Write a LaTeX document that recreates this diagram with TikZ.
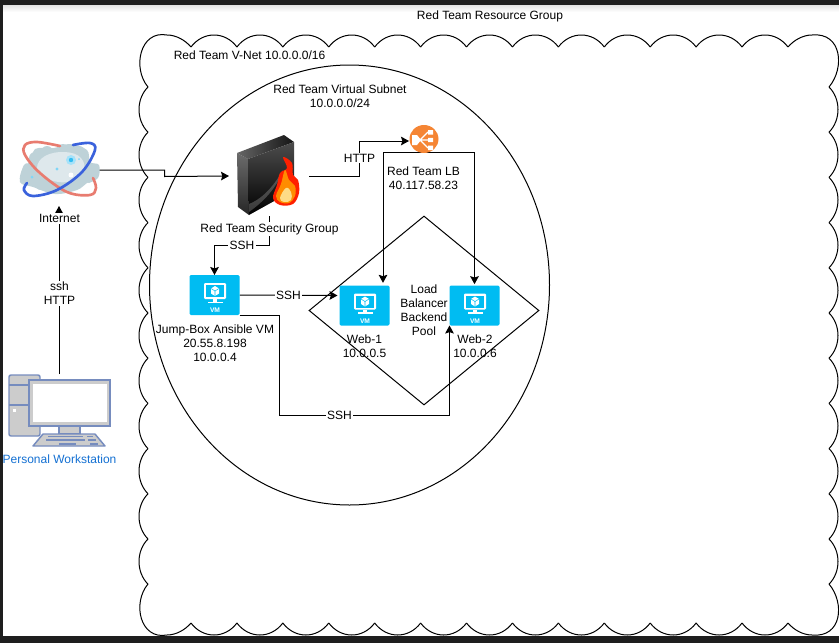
\documentclass[tikz,border=0pt]{standalone}
\usepackage{fontspec}
\setmainfont{Liberation Sans}
\usetikzlibrary{
    arrows.meta,
    shapes.geometric
}
\definecolor{framebar}{RGB}{30,30,30}
\definecolor{vmblue}{RGB}{0,188,242}
\definecolor{lborange}{RGB}{245,133,52}
\definecolor{pcstroke}{RGB}{118,140,190}
\definecolor{pcfill}{RGB}{204,204,204}
\definecolor{wslabel}{RGB}{20,112,210}
\definecolor{ringred}{RGB}{232,124,112}
\definecolor{ringblue}{RGB}{58,98,220}
\definecolor{cloudgrey}{RGB}{190,210,216}
\definecolor{cloudpale}{RGB}{222,232,236}
\tikzset{
    vmicon/.pic={
        \fill[vmblue, rounded corners=1pt] (-25,-20) rectangle (25,20);
        \fill[white, rounded corners=0.8pt] (-10.5,-12) rectangle (11.5,4);
        \fill[vmblue] (-8.5,-10) rectangle (9.5,2);
        \fill[white] (-1.5,4) rectangle (2.5,7);
        \fill[white] (-7,6.5) rectangle (8,8.2);
        \fill[white] (0.5,-9) -- (4.5,-6.5) -- (4.5,-1.5) -- (0.5,1) -- (-3.5,-1.5) -- (-3.5,-6.5) -- cycle;
        \draw[vmblue, line width=0.4pt] (-3.5,-6.5) -- (0.5,-4) -- (4.5,-6.5) (0.5,-4) -- (0.5,1);
        \node[text=white, font=\fontsize{5}{5}\bfseries\selectfont, inner sep=0pt] at (0.5,15.5) {VM};
    },
    lbicon/.pic={
        \fill[lborange] (0,-2) ellipse (14.5 and 14);
        \fill[white] (-12,-6) -- (-7,-6) -- (-3,-1) -- (-7,4) -- (-12,4) -- cycle;
        \draw[white, line width=0.9pt] (-4,-1) -- (4,-9) (-4,-1) -- (4,-1) (-4,-1) -- (4,7);
        \fill[white] (4,-11) rectangle (9,-6.5) (4,-3.2) rectangle (9,1.2) (4,4.5) rectangle (9,9);
    },
    firewallicon/.pic={
        \shade[top color=black!58, bottom color=black!85] (-32,-23) -- (-21,-17) -- (-20,39) -- (-31,31) -- cycle;
        \shade[left color=black!60, right color=black!92] (-32,-23) -- (15,-41) -- (25,-34) -- (-21,-17) -- cycle;
        \shade[top color=black!70, bottom color=black] (-21,-17) -- (25,-34) -- (25,14) -- (-20,39) -- cycle;
        \fill[white, opacity=0.22] (-20,28) .. controls (-5,22) and (6,8) .. (14,-6) .. controls (8,12) and (-6,26) .. (-20,36) -- cycle;
        \fill[red!75!orange] plot[smooth cycle, tension=0.6] coordinates {(14,-19) (23,-13) (24,-1) (29,4) (30,17) (24,28) (11,29) (4,22) (8,9) (11,-3) (18,-8)};
        \fill[orange!90!yellow] plot[smooth cycle, tension=0.6] coordinates {(16,-6) (20,4) (26,10) (26,20) (20,27) (11,26) (7,20) (12,8)};
        \fill[yellow!45!orange!45!white] plot[smooth cycle, tension=0.7] coordinates {(17,12) (22,16) (22,24) (15,26) (11,22)};
    },
    globeicon/.pic={
        \fill[cloudgrey] plot[smooth cycle, tension=0.6] coordinates {(-39,12) (-35,-5) (-27,-8) (-24,-21) (-5,-22) (11,-26) (28,-20) (31,-8) (40,-5) (39,8) (28,13) (18,20) (-4,24) (-26,17)};
        \foreach \cx/\cy/\cr in {-32/4/6, -24/-12/6, -12/-18/6, 4/-20/6, 20/-18/6, 33/-2/5, 30/8/5, -18/14/6, 4/18/5}
            \fill[cloudgrey] (\cx,\cy) circle (\cr);
        \fill[cloudpale] plot[smooth cycle, tension=0.7] coordinates {(-14,-14) (6,-18) (22,-12) (24,2) (8,12) (-14,8) (-22,-2)};
        \fill[cyan!35!white] (12,-10) circle (5);
        \fill[cyan!80!white] (12,-10) circle (2.2);
        \fill[white] (12,5) circle (2.5);
        \fill[cyan!50!white] (-2,-1) circle (1.6) (-27,7) circle (1.5) (20,-11) circle (1);
        \draw[ringred, line width=2pt, line cap=round] plot[smooth, tension=0.6] coordinates {(1,-24) (-22,-28) (-34,-25) (-34,-15) (-19,3) (8,22) (31,25) (37,18) (34,8)};
        \draw[ringblue, line width=2pt, line cap=round] plot[smooth, tension=0.6] coordinates {(14,-25) (31,-27) (36,-20) (23,2) (-2,20) (-26,26) (-35,20) (-32,13)};
    },
    pcicon/.pic={
        \draw[pcstroke, fill=pcfill, line width=1.1pt, rounded corners=1.5pt] (-50,-36) rectangle (-19,25);
        \draw[pcstroke, line width=1.1pt] (-50,-26) -- (-19,-26) (-50,-6) -- (-19,-6);
        \fill[white] (-46,-2.5) rectangle (-43,0.5);
        \draw[pcstroke, fill=pcfill, line width=1.1pt] (0,15) rectangle (21,23);
        \draw[pcstroke, fill=pcfill, line width=1.1pt] (-30,-31) rectangle (51,15);
        \fill[white] (-26,-27) rectangle (48,11);
        \draw[pcstroke, fill=pcfill, line width=1.1pt, line join=round] (-16,23) -- (36,23) -- (46,35) -- (-26,35) -- cycle;
        \draw[pcstroke, line width=1.1pt] (-11,25.5) -- (24,25.5) (28,25.5) -- (34,25.5) (-13,29) -- (26,29) (29,29) -- (37,29) (0,33) -- (17,33) (31,33) -- (39,33);
    }
}

\begin{document}
\begin{tikzpicture}[
    x=0.75pt, y=-0.75pt,
    iconbox/.style={inner sep=0pt, outer sep=0pt},
    txt/.style={font=\fontsize{9}{10.5}\selectfont, align=center, inner sep=0pt},
    linklabel/.style={txt, fill=white, inner sep=1pt},
    link/.style={-{Stealth[length=6pt, width=6.5pt, inset=1pt]}, line width=0.75pt},
    cloudedge/.style={line width=0.75pt}
]
    \useasboundingbox (0,0) rectangle (839,643);

    % Window frame
    \shade[top color=black!12, bottom color=white] (0,4.5) rectangle (839,12);
    \fill[framebar] (0,0) rectangle (839,4.5);
    \fill[framebar] (0,0) rectangle (3,643);
    \fill[framebar] (0,636) rectangle (839,643);

    % V-Net cloud outline
    \foreach \n in {0,...,12}
        \draw[cloudedge] ({191+45.92*\n},47) .. controls ({203+45.92*\n},31) and ({225+45.92*\n},31) .. ({191+45.92*(\n+1)},47);
    \foreach \n in {0,...,12}
        \draw[cloudedge] ({191+45.92*\n},623) .. controls ({203+45.92*\n},639) and ({225+45.92*\n},639) .. ({191+45.92*(\n+1)},623);
    \foreach \n in {0,...,10}
        \draw[cloudedge] (148,{87+45.2*\n}) .. controls (136,{99+45.2*\n}) and (136,{120+45.2*\n}) .. (148,{87+45.2*(\n+1)});
    \foreach \n in {0,...,10}
        \draw[cloudedge] (829,{87+45.2*\n}) .. controls (841,{99+45.2*\n}) and (841,{120+45.2*\n}) .. (829,{87+45.2*(\n+1)});
    \draw[cloudedge] (148,87) .. controls (132,68) and (140,30) .. (167,35) .. controls (176,35) and (185,40) .. (191,47);
    \draw[cloudedge] (148,584) .. controls (132,603) and (140,640) .. (167,635) .. controls (176,635) and (185,630) .. (191,623);
    \draw[cloudedge] (788,47) .. controls (794,40) and (803,35) .. (812,35) .. controls (842,32) and (845,68) .. (829,87);
    \draw[cloudedge] (788,623) .. controls (794,630) and (803,635) .. (812,635) .. controls (842,638) and (845,603) .. (829,584);

    % Subnet and backend pool
    \node[ellipse, draw, line width=0.75pt, minimum width=300pt, minimum height=330pt, inner sep=0pt] (subnet) at (349.5,285) {};
    \node[diamond, draw, txt, line width=0.75pt, minimum width=172.5pt, minimum height=141.75pt, aspect=1.217] (pool) at (424,310.5) {Load\\Balancer\\Backend\\Pool};

    % Icon places
    \node[iconbox, minimum width=60pt, minimum height=54pt] (internet) at (59,170) {};
    \node[iconbox, minimum width=60pt, minimum height=60pt] (firewall) at (269,176) {};
    \node[iconbox, minimum width=22.5pt, minimum height=16.5pt] (lb) at (424,141) {};
    \node[iconbox, minimum width=37.5pt, minimum height=30pt] (jump) at (214.5,295) {};
    \node[iconbox, minimum width=37.5pt, minimum height=30pt] (web1) at (364.5,305.5) {};
    \node[iconbox, minimum width=37.5pt, minimum height=30pt] (web2) at (474.5,305.5) {};
    \node[iconbox, minimum width=76.5pt, minimum height=55.5pt] (workstation) at (59,411) {};

    % Bends
    \coordinate (netbend) at (164.5,176.5);
    \coordinate (httpbend) at (359.5,141);
    \coordinate (jumpbend) at (214.5,245.5);
    \coordinate (sshbend) at (279.5,415.5);
    \coordinate (webonetop) at (383,285.5);
    \coordinate (webonewest) at (337.5,295.5);

    % Connectors
    \draw[link] (workstation.north) -- (internet.south);
    \draw[link] (internet.east) -| (netbend) -- (firewall.west);
    \draw[link] (firewall.east) -| (httpbend) -- (lb.west);
    \draw[link] (firewall.south) |- (jumpbend) -- (jump.north);
    \draw[link] (jump.east) -- (webonewest);
    \draw[link] (jump.south east) -| (sshbend) -| (web2.south west);
    \draw[link, shorten >=2pt] (lb.south) -| (webonetop);
    \draw[link, shorten >=1pt] (lb.south) -| (web2.north);

    % Icons
    \pic at (internet) {globeicon};
    \pic at (firewall) {firewallicon};
    \pic at (lb) {lbicon};
    \pic at (jump) {vmicon};
    \pic at (web1) {vmicon};
    \pic at (web2) {vmicon};
    \pic at (workstation) {pcicon};

    % Labels
    \node[txt] (resourcelabel) at (490,16) {Red Team Resource Group};
    \node[txt] (vnetlabel) at (249.5,55.5) {Red Team V-Net 10.0.0.0/16};
    \node[txt] (subnetlabel) at (340,96) {Red Team Virtual Subnet\\10.0.0.0/24};
    \node[linklabel] (internetlabel) at (59.5,218.5) {Internet};
    \node[linklabel] (securitylabel) at (269.5,229) {Red Team Security Group};
    \node[txt] (lblabel) at (423.5,178) {Red Team LB\\40.117.58.23};
    \node[txt] (jumplabel) at (215,343) {Jump-Box Ansible VM\\20.55.8.198\\10.0.0.4};
    \node[txt] (webonelabel) at (364.5,346) {Web-1\\10.0.0.5};
    \node[txt] (webtwolabel) at (475,346) {Web-2\\10.0.0.6};
    \node[linklabel] (uplinklabel) at (59.5,293.5) {ssh\\HTTP};
    \node[linklabel] (httplabel) at (359.5,158) {HTTP};
    \node[linklabel] (sshonelabel) at (242,245.5) {SSH};
    \node[linklabel] (sshtwolabel) at (288.5,295.5) {SSH};
    \node[linklabel] (sshthreelabel) at (339.5,415.5) {SSH};
    \node[txt, text=wslabel] (workstationlabel) at (59.5,459) {Personal Workstation};
\end{tikzpicture}
\end{document}
